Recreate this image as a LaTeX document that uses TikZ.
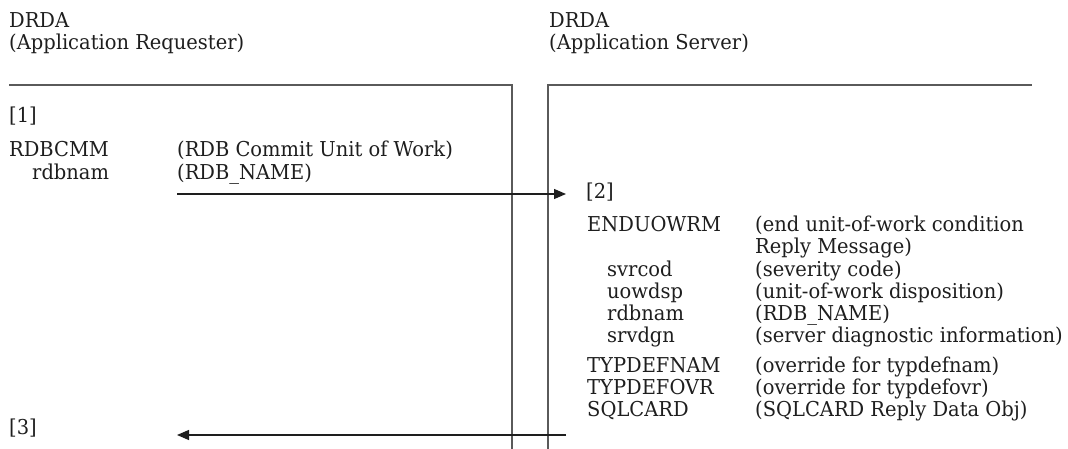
\documentclass[tikz,border=0pt]{standalone}
\usepackage{fontspec}
\setmainfont{DejaVu Serif}[FakeStretch=0.95]
\usetikzlibrary{arrows.meta}
\definecolor{ink}{HTML}{1E1E1E}
\definecolor{rule}{HTML}{5A5A5A}
\tikzset{
  lbl/.style={anchor=base west, inner sep=0pt, text=ink, font=\fontsize{20.5}{22}\selectfont},
  frame/.style={draw=rule, line width=1.3pt},
  msg/.style={draw=ink, line width=1.2pt, -{Triangle[length=12pt,width=10pt]}}
}
\begin{document}
\begin{tikzpicture}[x=1pt, y=-1pt]
  \useasboundingbox (0,0) rectangle (1068,449);

  % column headings
  \node[lbl] (arA) at (9,28) {DRDA};
  \node[lbl] (arB) at (9,50) {(Application Requester)};
  \node[lbl] (asA) at (549,28) {DRDA};
  \node[lbl] (asB) at (549,50) {(Application Server)};

  % requester and server frames
  \coordinate (rqTL) at (9,85);
  \coordinate (rqTR) at (512,85);
  \coordinate (rqB)  at (512,449);
  \coordinate (svTL) at (548,449);
  \coordinate (svT)  at (548,85);
  \coordinate (svTR) at (1032,85);
  \draw[frame] (rqTL) -- (rqTR) -- (rqB);
  \draw[frame] (svTL) -- (svT) -- (svTR);

  % requester side
  \node[lbl] (s1) at (9,123) {[1]};
  \node[lbl] (cmm) at (9,157) {RDBCMM};
  \node[lbl] (cmmd) at (177,157) {(RDB Commit Unit of Work)};
  \node[lbl] (rnm) at (32,180) {rdbnam};
  \node[lbl] (rnmd) at (177,180) {(RDB\_NAME)};
  \node[lbl] (s3) at (9,434) {[3]};

  % server side
  \node[lbl] (s2) at (586,199) {[2]};
  \node[lbl] (end) at (587,232) {ENDUOWRM};
  \node[lbl] (endd) at (755,232) {(end unit-of-work condition};
  \node[lbl] (endd2) at (755,254) {Reply Message)};
  \node[lbl] (svr) at (607,276) {svrcod};
  \node[lbl] (svrd) at (755,276) {(severity code)};
  \node[lbl] (uow) at (607,298) {uowdsp};
  \node[lbl] (uowd) at (755,298) {(unit-of-work disposition)};
  \node[lbl] (rdb) at (607,320) {rdbnam};
  \node[lbl] (rdbd) at (755,320) {(RDB\_NAME)};
  \node[lbl] (dgn) at (607,342) {srvdgn};
  \node[lbl] (dgnd) at (755,342) {(server diagnostic information)};
  \node[lbl] (tnm) at (587,372) {TYPDEFNAM};
  \node[lbl] (tnmd) at (755,372) {(override for typdefnam)};
  \node[lbl] (tov) at (587,394) {TYPDEFOVR};
  \node[lbl] (tovd) at (755,394) {(override for typdefovr)};
  \node[lbl] (sql) at (587,416) {SQLCARD};
  \node[lbl] (sqld) at (755,416) {(SQLCARD Reply Data Obj)};

  % message flows
  \coordinate (reqOut) at (177,194);
  \coordinate (srvIn)  at (566,194);
  \coordinate (srvOut) at (566,435);
  \coordinate (reqIn)  at (177,435);
  \draw[msg] (reqOut) -- (srvIn);
  \draw[msg] (srvOut) -- (reqIn);
\end{tikzpicture}
\end{document}
